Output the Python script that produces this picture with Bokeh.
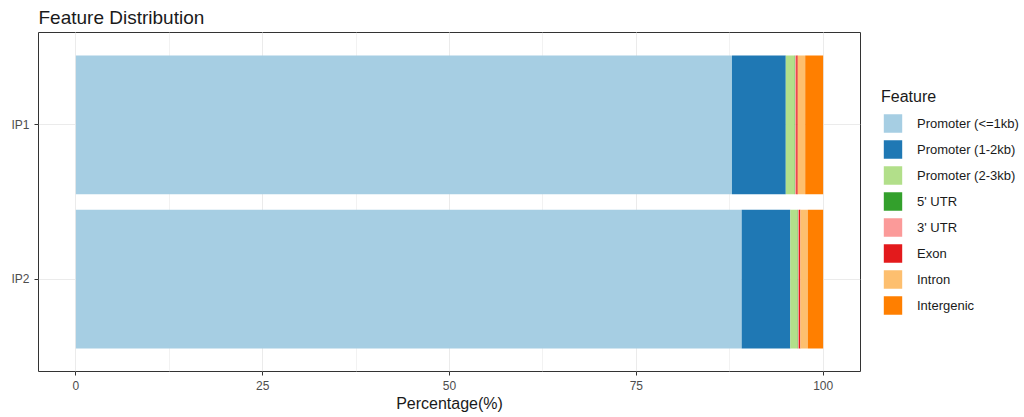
from bokeh.plotting import figure
from bokeh.models import (ColumnDataSource, FactorRange, Range1d, Legend, LegendItem,
                          SingleIntervalTicker)
from bokeh.embed import file_html
from bokeh.resources import INLINE

samples = ["IP1", "IP2"]
features = ["Promoter (<=1kb)", "Promoter (1-2kb)", "Promoter (2-3kb)", "5' UTR",
            "3' UTR", "Exon", "Intron", "Intergenic"]
prom_1kb = [87.8, 89.1]
prom_1_2kb = [7.2, 6.5]
prom_2_3kb = [1.2, 1.0]
utr5 = [0.05, 0.05]
utr3 = [0.15, 0.1]
exon = [0.2, 0.2]
intron = [1.0, 1.0]
intergenic = [2.4, 2.05]
colors = ["#A6CEE3", "#1F78B4", "#B2DF8A", "#33A02C", "#FB9A99", "#E31A1C", "#FDBF6F", "#FF7F00"]
x_ticks = [0, 25, 50, 75, 100]

keys = ["f%d" % i for i in range(8)]
data = {"sample": samples}
for k, vals in zip(keys, [prom_1kb, prom_1_2kb, prom_2_3kb, utr5, utr3, exon, intron, intergenic]):
    data[k] = vals
source = ColumnDataSource(data)

FONT = "Liberation Sans"

p = figure(frame_width=822, frame_height=339, output_backend="svg", toolbar_location=None,
           y_range=FactorRange(factors=["IP2", "IP1"], range_padding=0.1),
           x_range=Range1d(-5, 105),
           title="Feature Distribution", min_border_left=38, min_border_top=0,
           min_border_right=0, min_border_bottom=0)

renderers = p.hbar_stack(keys, y="sample", height=0.9, color=colors, line_color=None, source=source)

items = [LegendItem(label=f, renderers=[r]) for f, r in zip(features, renderers)]
legend = Legend(items=items, title="Feature", location="center_left")
legend.glyph_width = 23
legend.glyph_height = 23
legend.spacing = 3
legend.label_standoff = 13
legend.label_text_font = FONT
legend.label_text_font_size = "13px"
legend.label_text_color = "#1A1A1A"
legend.title_text_font = FONT
legend.title_text_font_size = "16px"
legend.title_text_font_style = "normal"
legend.title_text_color = "#1A1A1A"
legend.title_standoff = 6
legend.border_line_color = None
legend.background_fill_alpha = 0
legend.margin = 21
legend.padding = 0
p.add_layout(legend, "right")

p.title.text_font = FONT
p.title.text_font_size = "19px"
p.title.text_font_style = "normal"
p.title.text_color = "#1A1A1A"
p.title.offset = 0
p.title.standoff = 9

p.outline_line_color = "#333333"
p.outline_line_width = 1

p.xaxis.ticker = SingleIntervalTicker(interval=25, num_minor_ticks=2)
p.xaxis.major_label_overrides = {v: str(v) for v in x_ticks}
for ax in [p.xaxis[0], p.yaxis[0]]:
    ax.axis_line_color = None
    ax.major_tick_line_color = "#333333"
    ax.major_tick_in = 0
    ax.major_tick_out = 4
    ax.minor_tick_line_color = None
    ax.major_label_text_font = FONT
    ax.major_label_text_font_size = "12px"
    ax.major_label_text_color = "#4D4D4D"
    ax.major_label_standoff = 5
p.xaxis.axis_label = "Percentage(%)"
p.xaxis.axis_label_text_font = FONT
p.xaxis.axis_label_text_font_size = "16px"
p.xaxis.axis_label_text_font_style = "normal"
p.xaxis.axis_label_text_color = "#1A1A1A"
p.xaxis.axis_label_standoff = 2

p.xgrid.grid_line_color = "#EBEBEB"
p.xgrid.minor_grid_line_color = "#F2F2F2"
p.ygrid.grid_line_color = "#EBEBEB"

open("out.html", "w").write(file_html(p, INLINE))
